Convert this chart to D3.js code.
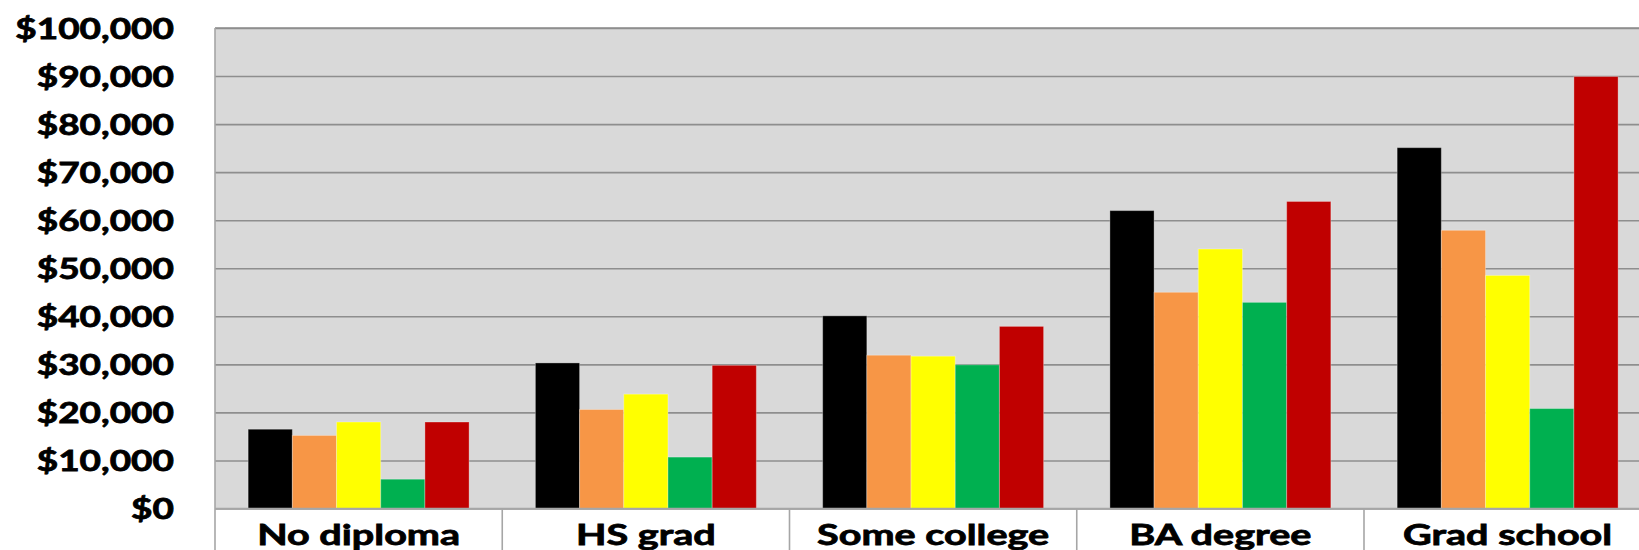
<!DOCTYPE html>
<html>
<head>
<meta charset="utf-8">
<script src="https://cdn.jsdelivr.net/npm/d3@7"></script>
<style>
  html, body { margin: 0; padding: 0; background: #ffffff; overflow: hidden; }
  svg { display: block; }
  text { font-family: Lato, "Open Sans", sans-serif; font-weight: 700; fill: #000; }
</style>
</head>
<body>
<script>
const WIDTH = 1639;
const HEIGHT = 550;
const PLOT_LEFT = 215;
const PLOT_TOP = 28;
const PLOT_BOTTOM = 508.5;
const GROUP_WIDTH = 287.25;
const LABEL_RIGHT = 174;
const FONT_SIZE = 29;
const CAP_HALF = 10.3;
const X_LABEL_BASELINE = 545;
const TEXT_STROKE = 0.8;

const categories = ["No diploma", "HS grad", "Some college", "BA degree", "Grad school"];
const seriesKeys = ["s1", "s2", "s3", "s4", "s5"];
const seriesColors = ["#000000", "#f79646", "#ffff00", "#00b050", "#c00000"];

const s1 = [16500, 30300, 40100, 62000, 75100];
const s2 = [15200, 20600, 31900, 45000, 57900];
const s3 = [18000, 23800, 31700, 54000, 48500];
const s4 = [6100, 10700, 29900, 42900, 20800];
const s5 = [18000, 29800, 37900, 63900, 89900];

const yTicks = [0, 10000, 20000, 30000, 40000, 50000, 60000, 70000, 80000, 90000, 100000];

const seriesValues = [s1, s2, s3, s4, s5];
const rows = categories.map((c, i) => {
  const row = { category: c };
  seriesKeys.forEach((k, j) => { row[k] = seriesValues[j][i]; });
  return row;
});

const svg = d3.select("body").append("svg")
  .attr("width", WIDTH)
  .attr("height", HEIGHT);

const plotRight = PLOT_LEFT + GROUP_WIDTH * categories.length;

const x0 = d3.scaleBand()
  .domain(categories)
  .range([PLOT_LEFT, plotRight])
  .paddingInner(0)
  .paddingOuter(0);

const x1 = d3.scaleBand()
  .domain(seriesKeys)
  .range([0, x0.bandwidth()])
  .paddingInner(0)
  .paddingOuter(0.75);

const y = d3.scaleLinear()
  .domain([0, 100000])
  .range([PLOT_BOTTOM, PLOT_TOP]);

const color = d3.scaleOrdinal().domain(seriesKeys).range(seriesColors);

// plot background
svg.append("rect")
  .attr("x", PLOT_LEFT)
  .attr("y", PLOT_TOP)
  .attr("width", plotRight - PLOT_LEFT)
  .attr("height", PLOT_BOTTOM - PLOT_TOP)
  .attr("fill", "#d9d9d9");

// the labels in the picture are stretched sideways; measure and match
const measure = (s) => {
  const t = svg.append("text").attr("font-size", FONT_SIZE).text(s);
  const w = t.node().getBBox().width;
  t.remove();
  return w;
};
const yStretch = 159 / measure("$100,000");
const xStretch = 203 / measure("No diploma");

const styleText = (sel) => sel
  .attr("font-size", FONT_SIZE)
  .attr("font-family", "Lato, 'Open Sans', sans-serif")
  .attr("font-weight", 700)
  .attr("fill", "#000")
  .attr("stroke", "#000")
  .attr("stroke-width", TEXT_STROKE);

// y axis with gridlines
const yAxis = svg.append("g")
  .attr("transform", `translate(${PLOT_LEFT},0)`)
  .call(d3.axisLeft(y)
    .tickValues(yTicks)
    .tickSize(-(plotRight - PLOT_LEFT))
    .tickFormat(d3.format("$,.0f")));

yAxis.select(".domain").remove();
yAxis.selectAll(".tick line")
  .attr("stroke", "#8e8e8e")
  .attr("stroke-width", 1.6);
yAxis.selectAll(".tick text")
  .attr("x", null)
  .attr("dy", null)
  .attr("text-anchor", "end")
  .call(styleText)
  .attr("transform", `translate(${LABEL_RIGHT - PLOT_LEFT},${CAP_HALF}) scale(${yStretch},1)`);

// bars
svg.append("g")
  .selectAll("g")
  .data(rows)
  .join("g")
  .attr("transform", (d) => `translate(${x0(d.category)},0)`)
  .selectAll("rect")
  .data((d) => seriesKeys.map((k) => ({ key: k, value: d[k] })))
  .join("rect")
  .attr("x", (d) => x1(d.key))
  .attr("y", (d) => y(d.value))
  .attr("width", x1.bandwidth())
  .attr("height", (d) => y(0) - y(d.value))
  .attr("fill", (d) => color(d.key))
  .attr("stroke", "#ffffff")
  .attr("stroke-opacity", 0.3)
  .attr("stroke-width", 1);

// plot frame: top border
svg.append("line")
  .attr("x1", PLOT_LEFT).attr("x2", plotRight)
  .attr("y1", PLOT_TOP).attr("y2", PLOT_TOP)
  .attr("stroke", "#8e8e8e").attr("stroke-width", 1.6);

// left border and category separators below the axis
const bounds = categories.map((c) => x0(c)).concat([plotRight]);
svg.append("g")
  .selectAll("line")
  .data(bounds)
  .join("line")
  .attr("x1", (d) => d).attr("x2", (d) => d)
  .attr("y1", (d, i) => (i === 0 ? PLOT_TOP : PLOT_BOTTOM))
  .attr("y2", HEIGHT)
  .attr("stroke", "#a6a6a6")
  .attr("stroke-width", 1.6);

// baseline
svg.append("line")
  .attr("x1", PLOT_LEFT).attr("x2", plotRight)
  .attr("y1", PLOT_BOTTOM).attr("y2", PLOT_BOTTOM)
  .attr("stroke", "#a6a6a6").attr("stroke-width", 1.6);

// x axis labels
const xAxis = svg.append("g")
  .attr("transform", `translate(0,${PLOT_BOTTOM})`)
  .call(d3.axisBottom(x0).tickSize(0));

xAxis.select(".domain").remove();
xAxis.selectAll(".tick text")
  .attr("y", null)
  .attr("dy", null)
  .call(styleText)
  .attr("transform", `translate(0,${X_LABEL_BASELINE - PLOT_BOTTOM}) scale(${xStretch},1)`);
</script>
</body>
</html>
